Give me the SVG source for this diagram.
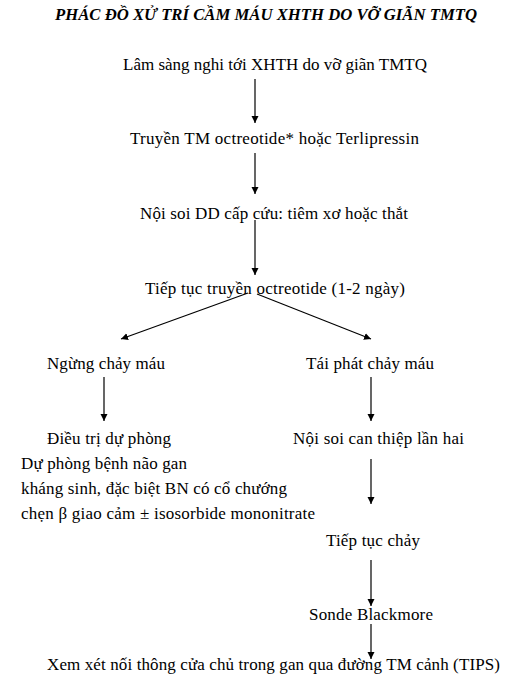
<svg xmlns="http://www.w3.org/2000/svg" width="513" height="678" viewBox="0 0 513 678">
<style>
text{font-family:"Liberation Serif","Times New Roman",serif;font-size:17px;fill:#000}
.title{font-weight:bold;font-style:italic;font-size:16.5px}
.c{stroke:#000;stroke-width:1.2;fill:none}
</style>
<defs>
<marker id="ah" markerWidth="8" markerHeight="8" refX="7" refY="3.5" orient="auto" markerUnits="userSpaceOnUse">
<path d="M0,0 L7,3.5 L0,7 Z" fill="#000"/>
</marker>
</defs>
<rect width="513" height="678" fill="#fff"/>
<g id="title"><text class="title" x="55" y="20" textLength="422" lengthAdjust="spacingAndGlyphs">PHÁC ĐỒ XỬ TRÍ CẦM MÁU XHTH DO VỠ GIÃN TMTQ</text></g>
<g id="connectors">
<line class="c" x1="255" y1="79" x2="255" y2="123" marker-end="url(#ah)"/>
<line class="c" x1="255" y1="153" x2="255" y2="194" marker-end="url(#ah)"/>
<line class="c" x1="255" y1="220" x2="255" y2="275" marker-end="url(#ah)"/>
<line class="c" x1="248" y1="293" x2="121" y2="339" marker-end="url(#ah)"/>
<line class="c" x1="257" y1="294" x2="371" y2="339" marker-end="url(#ah)"/>
<line class="c" x1="104" y1="377" x2="104" y2="421" marker-end="url(#ah)"/>
<line class="c" x1="371" y1="377" x2="371" y2="421" marker-end="url(#ah)"/>
<line class="c" x1="371" y1="459" x2="371" y2="504" marker-end="url(#ah)"/>
<line class="c" x1="371" y1="560" x2="371" y2="606" marker-end="url(#ah)"/>
<line class="c" x1="371" y1="624" x2="371" y2="659" marker-end="url(#ah)"/>
</g>
<g id="n1"><text x="123" y="70" textLength="304">Lâm sàng nghi tới XHTH do vỡ giãn TMTQ</text></g>
<g id="n2"><text x="130" y="144" textLength="289">Truyền TM octreotide* hoặc Terlipressin</text></g>
<g id="n3"><text x="140" y="219" textLength="268">Nội soi DD cấp cứu: tiêm xơ hoặc thắt</text></g>
<g id="n4"><text x="145" y="294" textLength="260">Tiếp tục truyền octreotide (1-2 ngày)</text></g>
<g id="n5"><text x="47" y="369" textLength="118">Ngừng chảy máu</text></g>
<g id="n6"><text x="306" y="369" textLength="128">Tái phát chảy máu</text></g>
<g id="n7">
<text x="47" y="444" textLength="124">Điều trị dự phòng</text>
<text x="21" y="469" textLength="166">Dự phòng bệnh não gan</text>
<text x="21" y="494" textLength="266">kháng sinh, đặc biệt BN có cổ chướng</text>
<text x="21" y="519" textLength="294">chẹn β giao cảm ± isosorbide mononitrate</text>
</g>
<g id="n8"><text x="293" y="444" textLength="171">Nội soi can thiệp lần hai</text></g>
<g id="n9"><text x="326" y="546" textLength="94">Tiếp tục chảy</text></g>
<g id="n10"><text x="309" y="620" textLength="124">Sonde Blackmore</text></g>
<g id="n11"><text x="47" y="670" textLength="453">Xem xét nối thông cửa chủ trong gan qua đường TM cảnh (TIPS)</text></g>
</svg>
